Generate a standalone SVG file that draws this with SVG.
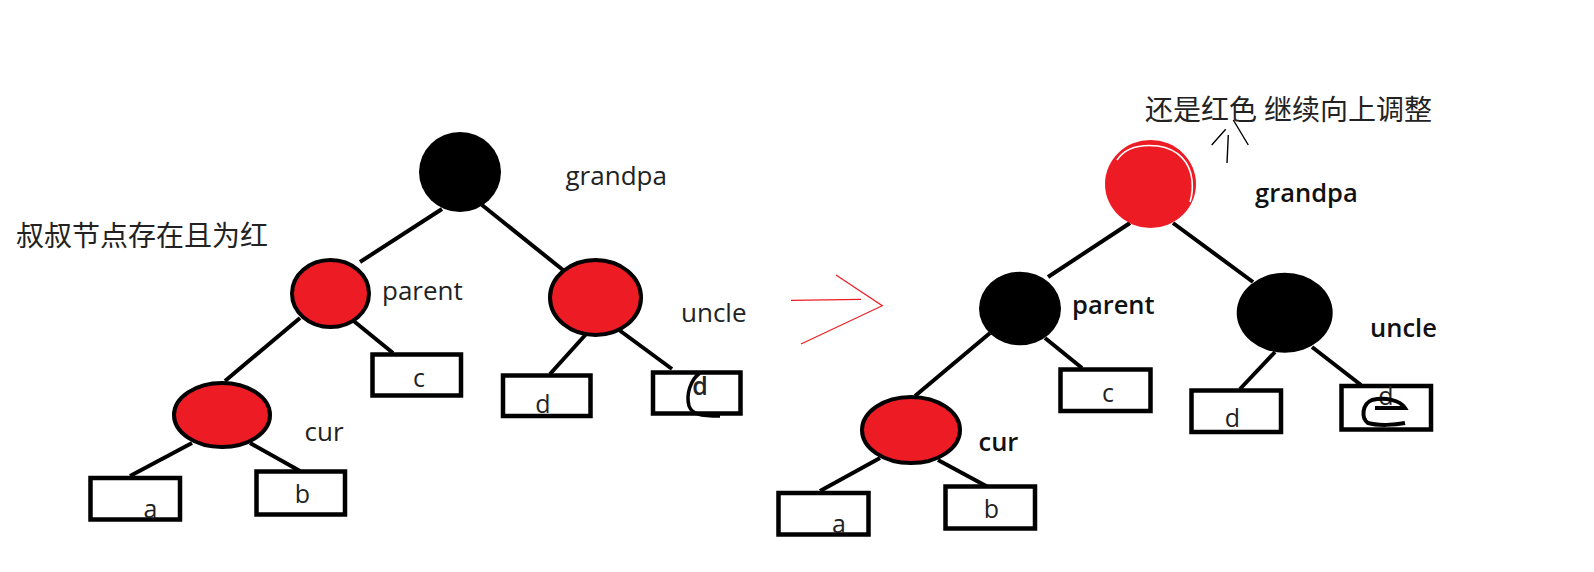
<svg xmlns="http://www.w3.org/2000/svg" width="1594" height="572" viewBox="0 0 1594 572">
<style>
.lbl{font-family:"Open Sans","Noto Sans",sans-serif;font-size:26px;fill:#222}
.lblb{font-family:"Open Sans","Noto Sans",sans-serif;font-size:25.5px;font-weight:600;fill:#111}
.box{fill:#fff;stroke:#000;stroke-width:4.5}
.bt{font-family:"Open Sans","Noto Sans",sans-serif;font-size:25px;fill:#222;text-anchor:middle}
.cjk{font-family:"Noto Sans CJK SC","Noto Sans",sans-serif;font-size:28px;fill:#222}
.edge{stroke:#000;stroke-width:4;fill:none}
.red{fill:#ed1c24;stroke:#000;stroke-width:4}
.blk{fill:#000}
</style>
<rect width="1594" height="572" fill="#fff"/>
<g id="connectors">
<line class="edge" x1="442" y1="209" x2="360" y2="262"/>
<line class="edge" x1="482" y1="205" x2="568" y2="274"/>
<line class="edge" x1="300" y1="318" x2="225" y2="381"/>
<line class="edge" x1="350" y1="318" x2="393" y2="353"/>
<line class="edge" x1="192" y1="443" x2="130" y2="476"/>
<line class="edge" x1="250" y1="443" x2="300" y2="471"/>
<line class="edge" x1="588" y1="332" x2="550" y2="374"/>
<line class="edge" x1="615" y1="327" x2="672" y2="369"/>
<line class="edge" x1="1130" y1="223" x2="1048" y2="277"/>
<line class="edge" x1="1173" y1="223" x2="1253" y2="282"/>
<line class="edge" x1="990" y1="333" x2="915" y2="396"/>
<line class="edge" x1="1045" y1="338" x2="1082" y2="368"/>
<line class="edge" x1="880" y1="458" x2="820" y2="491"/>
<line class="edge" x1="938" y1="460" x2="988" y2="487"/>
<line class="edge" x1="1275" y1="352" x2="1240" y2="389"/>
<line class="edge" x1="1312" y1="347" x2="1361" y2="385"/>
<path d="M791,300.3 L861,299.3 M836,275 L882.3,305.7 L801,344" fill="none" stroke="#ed1c24" stroke-width="1.2"/>
<path d="M1227,163 L1228.3,135 M1211.7,145 L1225.7,129.3 M1233.3,120 L1248.3,145" fill="none" stroke="#000" stroke-width="1.4"/>
</g>
<g id="note-left"><text class="cjk" x="16" y="246" font-size="28.5">叔叔节点存在且为红</text></g>
<g id="note-right"><text class="cjk" x="1145" y="120">还是红色 <tspan x="1264">继续向上调整</tspan></text></g>
<g id="L-grandpa"><ellipse class="blk" cx="460" cy="172" rx="41" ry="40"/><text class="lbl" x="565.5" y="185">grandpa</text></g>
<g id="L-parent"><ellipse class="red" cx="330.5" cy="293.5" rx="38.5" ry="33.5"/><text class="lbl" x="382" y="300">parent</text></g>
<g id="L-uncle"><ellipse class="red" cx="595.5" cy="297.5" rx="45.5" ry="37.5"/><text class="lbl" x="681" y="321.5">uncle</text></g>
<g id="L-cur"><ellipse class="red" cx="222" cy="415" rx="48" ry="32"/><text class="lbl" x="304.5" y="440.5">cur</text></g>
<g id="L-a"><rect class="box" x="90.5" y="478" width="89.5" height="41.5"/><text class="bt" x="150.5" y="518">a</text></g>
<g id="L-b"><rect class="box" x="256.5" y="471.5" width="88.5" height="43"/><text class="bt" x="302.5" y="503">b</text></g>
<g id="L-c"><rect class="box" x="372.5" y="354.5" width="88.5" height="41"/><text class="bt" x="419" y="387">c</text></g>
<g id="L-d"><rect class="box" x="503" y="375.5" width="87.5" height="40.5"/><text class="bt" x="543" y="413">d</text></g>
<g id="L-e"><rect class="box" x="653" y="372.5" width="87.5" height="41"/><text class="bt" x="700" y="395" font-size="27" font-weight="600">d</text><path d="M700,373 C690,380 686,395 689,406 C692,414 700,416 720,416" fill="none" stroke="#000" stroke-width="3.5"/></g>
<g id="R-grandpa"><ellipse cx="1150.5" cy="184" rx="45.5" ry="44" fill="#ed1c24"/><path d="M1117,160 C1125,148 1140,144 1158,146 C1178,149 1190,162 1192,180 C1193,190 1192,196 1190,202" fill="none" stroke="#fff" stroke-width="1.6"/><text class="lblb" x="1255" y="201.5">grandpa</text></g>
<g id="R-parent"><ellipse class="blk" cx="1020" cy="308.5" rx="41" ry="36.7"/><text class="lblb" x="1072" y="314">parent</text></g>
<g id="R-uncle"><ellipse class="blk" cx="1284.7" cy="312.7" rx="48" ry="40"/><text class="lblb" x="1370" y="337">uncle</text></g>
<g id="R-cur"><ellipse class="red" cx="911" cy="430" rx="49" ry="33"/><text class="lblb" x="978.5" y="450.5">cur</text></g>
<g id="R-a"><rect class="box" x="778.5" y="493" width="90" height="41.5"/><text class="bt" x="839" y="533">a</text></g>
<g id="R-b"><rect class="box" x="945.5" y="486.5" width="89.5" height="42"/><text class="bt" x="991.5" y="518">b</text></g>
<g id="R-c"><rect class="box" x="1060.5" y="369.5" width="90" height="41.5"/><text class="bt" x="1108" y="401.5">c</text></g>
<g id="R-d"><rect class="box" x="1191.5" y="390.5" width="89.5" height="41.5"/><text class="bt" x="1232.5" y="427">d</text></g>
<g id="R-e"><rect class="box" x="1341.5" y="386" width="89.5" height="43.5"/><text class="bt" x="1386" y="405" font-size="18">d</text><path d="M1375,408 L1405,408 C1400,400 1385,397 1372,400 C1362,404 1361,418 1368,423 C1378,426 1395,425 1405,423" fill="none" stroke="#000" stroke-width="4"/></g>
</svg>
